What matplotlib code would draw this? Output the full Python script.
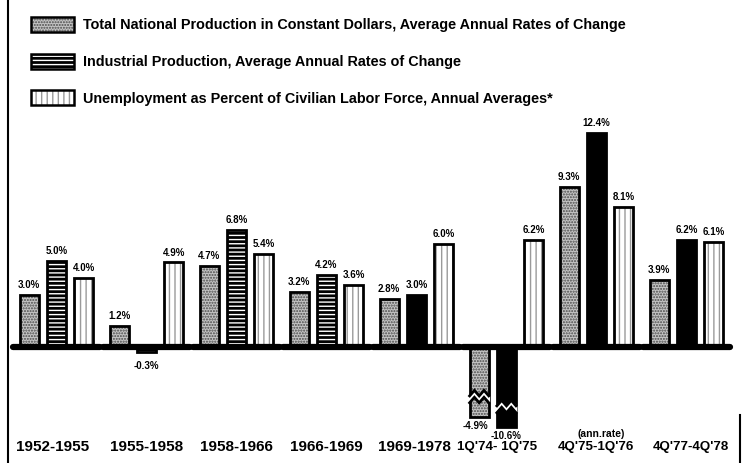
import numpy as np
import matplotlib
matplotlib.use("Agg")
import matplotlib.pyplot as plt
from matplotlib.patches import Patch, Polygon
from matplotlib.legend_handler import HandlerTuple
from matplotlib.lines import Line2D

# ---------------- data ----------------
periods = ["1952-1955", "1955-1958", "1958-1966", "1966-1969", "1969-1978",
           "1Q'74- 1Q'75", "4Q'75-1Q'76", "4Q'77-4Q'78"]
total_production = [3.0, 1.2, 4.7, 3.2, 2.8, -4.9, 9.3, 3.9]
industrial_production = [5.0, -0.3, 6.8, 4.2, 3.0, -10.6, 12.4, 6.2]
unemployment = [4.0, 4.9, 5.4, 3.6, 6.0, 6.2, 8.1, 6.1]
series_names = ["Total National Production in Constant Dollars, Average Annual Rates of Change",
                "Industrial Production, Average Annual Rates of Change",
                "Unemployment as Percent of Civilian Labor Force, Annual Averages*"]
note_label = "(ann.rate)"
note_period = 6

# ---------------- style ----------------
W, H, DPI = 743, 463, 100
FONT = ["Liberation Sans", "DejaVu Sans"]
plt.rcParams["font.family"] = FONT
plt.rcParams["font.weight"] = "bold"
plt.rcParams["hatch.linewidth"] = 1.0

# broken (compressed) scale for large negative values
T, C, S = 3.0, 0.44, 0.2
def fwd(v):
    v = np.asarray(v, float)
    over = np.maximum(-T - v, 0.0)
    return np.where(v >= -T, v, -T - C * np.log1p(over / S))
def inv(d):
    d = np.asarray(d, float)
    over = np.maximum(-T - d, 0.0)
    return np.where(d >= -T, d, -T - S * np.expm1(over / C))

fig = plt.figure(figsize=(W / DPI, H / DPI), dpi=DPI)
fig.patch.set_facecolor("white")
ax = fig.add_axes([0, 0, 1, 1])
ax.set_yscale("function", functions=(fwd, inv))
PX_PER_UNIT = 17.25
BASE_PX = 347
ax.set_ylim(float(inv(-(H - BASE_PX) / PX_PER_UNIT)), float(inv(BASE_PX / PX_PER_UNIT)))
ax.set_xlim(-0.629, 7.629)
ax.axis("off")

x = np.arange(len(periods))
offsets = [-0.303, 0.0, 0.303]
bw = 0.213
styles = [
    dict(face="#c4c4c4", hatchcol="#4a4a4a", hatch="......"),
    dict(face="black", hatchcol="white", hatch="----"),
    dict(face="white", hatchcol="#9a9a9a", hatch="|||"),
]
striped_groups = 4  # industrial bars with white stripes for first groups

all_series = [total_production, industrial_production, unemployment]
for si, vals in enumerate(all_series):
    st = styles[si]
    for gi, v in enumerate(vals):
        xi = x[gi] + offsets[si]
        hatch = st["hatch"]
        if si == 1 and gi >= striped_groups:
            hatch = None
        ax.bar(xi, v, width=bw, color=st["face"], edgecolor=st["hatchcol"],
               hatch=hatch, linewidth=0, zorder=2)
        ax.bar(xi, v, width=bw, fill=False, edgecolor="black", linewidth=2.0, zorder=3)
        lab = f"{v:.1f}%"
        if v >= 0:
            ax.annotate(lab, (xi, v), xytext=(0, 3.5), textcoords="offset points",
                        ha="center", va="bottom", fontsize=7, fontweight="bold", zorder=5)
        else:
            dy = -6.5 if v >= -T else -3.0
            dx = -3 if si == 0 else 0
            ax.annotate(lab, (xi, v), xytext=(dx, dy), textcoords="offset points",
                        ha="center", va="top", fontsize=7, fontweight="bold", zorder=5)
        # zig-zag break on truncated bars
        if v < -T:
            dc = float(fwd(v)) + 1.0
            g, a = 0.2, 0.32
            xs = np.linspace(xi - bw / 2 - 0.015, xi + bw / 2 + 0.015, 5)
            zig = np.array([0, a, 0, a, 0])
            top = dc + g + zig
            bot = dc - g + zig
            poly = np.column_stack([np.r_[xs, xs[::-1]],
                                    inv(np.r_[top, bot[::-1]])])
            ax.add_patch(Polygon(poly, closed=True, facecolor="white",
                                 edgecolor="none", zorder=4))
            xin = np.linspace(xi - bw / 2, xi + bw / 2, 5)
            ax.plot(xin, inv(top), color="black", lw=2.0, zorder=4.5,
                    solid_joinstyle="miter")
            ax.plot(xin, inv(bot), color="black", lw=2.0, zorder=4.5,
                    solid_joinstyle="miter")

# group baselines
ax.hlines(np.zeros(len(x)), x - 0.48, x + 0.48, color="black", lw=4.5, zorder=6,
          capstyle="round")

# category labels
label_dx = [-0.04, 0, 0, 0, -0.02, -0.1, 0, 0.05]
for gi, name in enumerate(periods):
    fs = 11 if "Q" not in name else 9.6
    ax.text(x[gi] + label_dx[gi], 1 - 447 / H, name, transform=ax.get_xaxis_transform(),
            ha="center", va="center", fontsize=fs, fontweight="bold")
ax.text(x[note_period] + 0.05, 1 - 434 / H, note_label, transform=ax.get_xaxis_transform(),
        ha="center", va="center", fontsize=7.5, fontweight="bold")

# legend
handles = []
for si in range(3):
    st = styles[si]
    handles.append((Patch(facecolor=st["face"], edgecolor=st["hatchcol"], hatch=st["hatch"], linewidth=0),
                    Patch(facecolor="none", edgecolor="black", linewidth=1.8)))
leg = fig.legend(handles, series_names, handler_map={tuple: HandlerTuple(ndivide=1, pad=0)},
                 loc="upper left", bbox_to_anchor=(31 / W, 1 - 17 / H),
                 frameon=False, fontsize=10.4, handlelength=3.0, handleheight=1.25,
                 handletextpad=0.6, labelspacing=1.46, borderpad=0, borderaxespad=0)
for t in leg.get_texts():
    t.set_fontweight("bold")

# frame lines
fig.add_artist(Line2D([8 / W, 8 / W], [0, 1], color="black", lw=1.5))
fig.add_artist(Line2D([740 / W, 740 / W], [0, 1 - 415 / H], color="black", lw=1.5))

fig.savefig("out.png", dpi=DPI, facecolor="white")
